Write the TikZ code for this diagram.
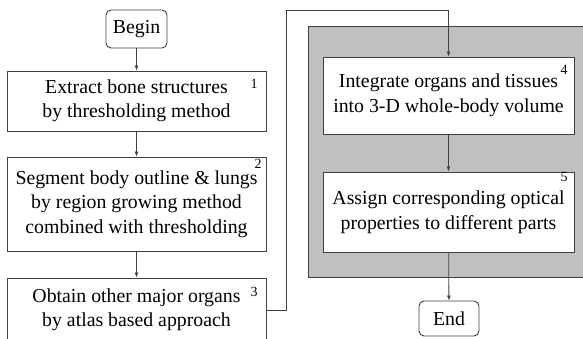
\documentclass[tikz,border=0pt]{standalone}
\usepackage{fontspec}
\setmainfont{Liberation Serif}
\usetikzlibrary{arrows.meta}
\definecolor{lc}{RGB}{64,64,64}
\definecolor{panel}{RGB}{192,192,192}
\tikzset{
  box/.style={draw=lc, line width=0.9pt, fill=white, rectangle, inner sep=0pt, align=center,
    font=\fontsize{19.8}{24.5}\selectfont},
  term/.style={box, rounded corners=5pt},
  num/.style={inner sep=0pt, font=\fontsize{14}{14}\selectfont},
  arr/.style={draw=lc, line width=0.8pt, -{Latex[length=5pt,width=4pt]}},
}
\begin{document}
\begin{tikzpicture}[x=1pt,y=-1pt]
\useasboundingbox (0,0) rectangle (583,338);
\clip (0,0) rectangle (583,338);
\fill[panel, draw=lc, line width=0.9pt] (308,26) rectangle (600,277);
\node[term, minimum width=61pt, minimum height=38pt] (begin) at (136.5,29) {Begin};
\node[box, minimum width=259pt, minimum height=60pt] (b1) at (136.5,101) {Extract bone structures\\by thresholding method};
\node[box, minimum width=259pt, minimum height=94pt] (b2) at (136.5,204) {Segment body outline \& lungs\\by region growing method\\combined with thresholding};
\node[box, minimum width=259pt, minimum height=64pt] (b3) at (136.5,310) {Obtain other major organs\\by atlas based approach};
\node[box, minimum width=251pt, minimum height=77pt] (b4) at (448.5,95.5) {Integrate organs and tissues\\into 3-D whole-body volume};
\node[box, minimum width=251pt, minimum height=80pt] (b5) at (448.5,212) {Assign corresponding optical\\properties to different parts};
\node[term, minimum width=60pt, minimum height=35pt] (end) at (449,318.5) {End};
\node[num] (n1) at (254,84) {1};
\node[num] (n2) at (258,164) {2};
\node[num] (n3) at (254,292) {3};
\node[num] (n4) at (564,70) {4};
\node[num] (n5) at (564,177) {5};
\coordinate (c1) at (286,10);
\draw[arr] (begin) -- (b1);
\draw[arr] (b1) -- (b2);
\draw[arr] (b2) -- (b3);
\draw[arr] (b3.east) -| (c1) -| (b4.north);
\draw[arr] (b4) -- (b5);
\draw[arr] (b5) -- (end);
\end{tikzpicture}
\end{document}
